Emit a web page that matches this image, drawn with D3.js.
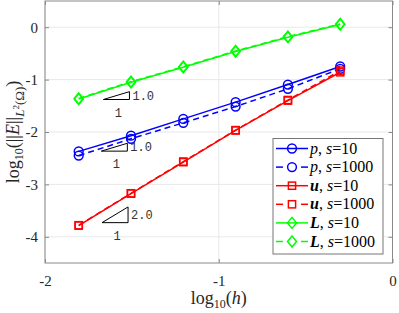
<!DOCTYPE html>
<html>
<head>
<meta charset="utf-8">
<script src="https://cdn.jsdelivr.net/npm/d3@7"></script>
<style>
  body { margin: 0; background: #fff; }
  svg { display: block; }
</style>
</head>
<body>
<svg id="chart"></svg>
<script>
// log10(h) for h = 1/64 ... 1/2
const logH = [-1.806, -1.505, -1.204, -0.903, -0.602, -0.301]

const pS10 = [-2.37, -2.07, -1.75, -1.43, -1.095, -0.75]
const pS1000 = [-2.45, -2.13, -1.825, -1.515, -1.175, -0.795]
const uS10 = [-3.785, -3.175, -2.575, -1.97, -1.40, -0.86]
const uS1000 = [-3.78, -3.17, -2.565, -1.965, -1.39, -0.83]
const LS10 = [-1.37, -1.05, -0.765, -0.465, -0.19, 0.05]
const LS1000 = [-1.36, -1.04, -0.755, -0.455, -0.18, 0.06]

const xTicks = [-2, -1, 0]
const yTicks = [0, -1, -2, -3, -4]

// slope triangles: left x, base y, slope label
const triX = [-1.664, -1.676, -1.672]
const triY = [-1.38, -2.365, -3.73]
const triSlope = [1.0, 1.0, 2.0]
const triRun = 0.15

const series = [
    { name: "p", s: "10", bold: false, color: "#0000ff", marker: "circle", dash: false, values: pS10 },
    { name: "p", s: "1000", bold: false, color: "#0000ff", marker: "circle", dash: true, values: pS1000 },
    { name: "u", s: "10", bold: true, color: "#ff0000", marker: "square", dash: false, values: uS10 },
    { name: "u", s: "1000", bold: true, color: "#ff0000", marker: "square", dash: true, values: uS1000 },
    { name: "L", s: "10", bold: true, color: "#00ff00", marker: "diamond", dash: false, values: LS10 },
    { name: "L", s: "1000", bold: true, color: "#00ff00", marker: "diamond", dash: true, values: LS1000 }
]

const width = 399
const height = 313
const margin = { top: 1, right: 6.5, bottom: 50, left: 45 }

const svg = d3.select("#chart")
    .attr("width", width)
    .attr("height", height)

const xScale = d3.scaleLinear()
    .domain([-2, 0])
    .range([margin.left, width - margin.right])

const yScale = d3.scaleLinear()
    .domain([-4.5, 0.5])
    .range([height - margin.bottom, margin.top])

const serif = "'Liberation Serif', 'DejaVu Serif', serif"
const axisColor = "#8a8a8a"
const tickFmt = d => String(d)

// grid
svg.append("g")
    .selectAll("line")
    .data(xTicks)
    .join("line")
    .attr("x1", d => xScale(d)).attr("x2", d => xScale(d))
    .attr("y1", yScale.range()[1]).attr("y2", yScale.range()[0])
    .attr("stroke", "#e8e8e8")

svg.append("g")
    .selectAll("line")
    .data(yTicks)
    .join("line")
    .attr("y1", d => yScale(d)).attr("y2", d => yScale(d))
    .attr("x1", xScale.range()[0]).attr("x2", xScale.range()[1])
    .attr("stroke", "#e8e8e8")

// axes (ticks inward, box on)
const styleAxis = g =>
{
    g.select(".domain").remove()
    g.attr("font-family", null)
    g.selectAll(".tick line").attr("stroke", axisColor)
    g.selectAll(".tick text")
        .attr("font-family", serif)
        .attr("font-size", 15)
        .attr("fill", "#262626")
}

svg.append("g")
    .attr("transform", `translate(0,${yScale.range()[0]})`)
    .call(d3.axisBottom(xScale).tickValues(xTicks).tickFormat(tickFmt).tickSizeInner(-4).tickPadding(12))
    .call(styleAxis)

svg.append("g")
    .attr("transform", `translate(0,${yScale.range()[1]})`)
    .call(d3.axisTop(xScale).tickValues(xTicks).tickFormat("").tickSizeInner(-4))
    .call(styleAxis)

svg.append("g")
    .attr("transform", `translate(${xScale.range()[0]},0)`)
    .call(d3.axisLeft(yScale).tickValues(yTicks).tickFormat(tickFmt).tickSizeInner(-4).tickPadding(7))
    .call(styleAxis)

svg.append("g")
    .attr("transform", `translate(${xScale.range()[1]},0)`)
    .call(d3.axisRight(yScale).tickValues(yTicks).tickFormat("").tickSizeInner(-4))
    .call(styleAxis)

svg.append("rect")
    .attr("x", xScale.range()[0])
    .attr("y", yScale.range()[1])
    .attr("width", xScale.range()[1] - xScale.range()[0])
    .attr("height", yScale.range()[0] - yScale.range()[1])
    .attr("fill", "none")
    .attr("stroke", axisColor)

// markers
function drawMarker(g, type, color)
{
    if (type === "circle")
    {
        g.append("circle").attr("r", 4.4)
            .attr("fill", "none").attr("stroke", color).attr("stroke-width", 1.5)
    }
    else if (type === "square")
    {
        g.append("rect").attr("x", -3.6).attr("y", -3.6).attr("width", 7.2).attr("height", 7.2)
            .attr("fill", "none").attr("stroke", color).attr("stroke-width", 1.5)
    }
    else
    {
        g.append("path").attr("d", "M0,-5.5L4.5,0L0,5.5L-4.5,0Z")
            .attr("fill", "none").attr("stroke", color).attr("stroke-width", 1.5)
    }
}

const line = d3.line()
    .x((d, i) => xScale(logH[i]))
    .y(d => yScale(d))

series.forEach(s =>
{
    const g = svg.append("g")
    g.append("path")
        .attr("d", line(s.values))
        .attr("fill", "none")
        .attr("stroke", s.color)
        .attr("stroke-width", 1.5)
        .attr("stroke-dasharray", s.dash ? "6,4" : null)

    s.values.forEach((v, i) =>
    {
        const m = g.append("g").attr("transform", `translate(${xScale(logH[i])},${yScale(v)})`)
        drawMarker(m, s.marker, s.color)
    })
})

// slope triangles
const mono = "'Liberation Mono', 'DejaVu Sans Mono', monospace"
triX.forEach((x0, i) =>
{
    const x1 = x0 + triRun
    const y0 = triY[i]
    const y1 = y0 + triSlope[i] * triRun
    const g = svg.append("g")
    g.append("path")
        .attr("d", `M${xScale(x0)},${yScale(y0)}L${xScale(x1)},${yScale(y0)}L${xScale(x1)},${yScale(y1)}Z`)
        .attr("fill", "none")
        .attr("stroke", "#000")
        .attr("stroke-width", 1)
    g.append("text")
        .attr("x", xScale(x1) + 3)
        .attr("y", (yScale(y0) + yScale(y1)) / 2 + 1)
        .attr("dominant-baseline", "middle")
        .attr("font-family", mono)
        .attr("font-size", 12)
        .attr("fill", "#333")
        .text(triSlope[i].toFixed(1))
    g.append("text")
        .attr("x", (xScale(x0) + xScale(x1)) / 2 + 2)
        .attr("y", yScale(y0) + 14)
        .attr("dominant-baseline", "middle")
        .attr("text-anchor", "middle")
        .attr("font-family", mono)
        .attr("font-size", 12)
        .attr("fill", "#333")
        .text("1")
})

// axis labels
const xLabel = svg.append("text")
    .attr("x", (xScale.range()[0] + xScale.range()[1]) / 2)
    .attr("y", 304)
    .attr("text-anchor", "middle")
    .attr("font-family", serif)
    .attr("font-size", 18)
    .attr("fill", "#262626")
xLabel.append("tspan").text("log")
xLabel.append("tspan").attr("font-size", 12).attr("dy", 4).text("10")
xLabel.append("tspan").attr("dy", -4).text("(")
xLabel.append("tspan").attr("font-style", "italic").text("h")
xLabel.append("tspan").text(")")

const yLabel = svg.append("text")
    .attr("transform", `translate(19,${(yScale.range()[0] + yScale.range()[1]) / 2}) rotate(-90)`)
    .attr("text-anchor", "middle")
    .attr("font-family", serif)
    .attr("font-size", 18)
    .attr("fill", "#262626")
yLabel.append("tspan").text("log")
yLabel.append("tspan").attr("font-size", 12).attr("dy", 4).text("10")
yLabel.append("tspan").attr("dy", -4).text("(||")
yLabel.append("tspan").attr("font-style", "italic").text("E")
yLabel.append("tspan").text("||")
yLabel.append("tspan").attr("font-size", 13).attr("font-style", "italic").attr("dy", 5).text("L")
yLabel.append("tspan").attr("font-size", 9).attr("dy", -5).text("2")
yLabel.append("tspan").attr("font-size", 13).attr("dy", 5).text("(Ω)")
yLabel.append("tspan").attr("dy", -5).text(")")

// legend
const legend = svg.append("g")
legend.append("rect")
    .attr("x", 273).attr("y", 138.5)
    .attr("width", 110).attr("height", 115.5)
    .attr("fill", "#fff")
    .attr("stroke", "#777")
    .attr("stroke-width", 1)

series.forEach((s, i) =>
{
    const y = 148.5 + i * 18.6
    const g = legend.append("g")
    if (s.dash)
    {
        g.append("line").attr("x1", 276).attr("x2", 283).attr("y1", y).attr("y2", y)
            .attr("stroke", s.color).attr("stroke-width", 1.5)
        g.append("line").attr("x1", 301).attr("x2", 308).attr("y1", y).attr("y2", y)
            .attr("stroke", s.color).attr("stroke-width", 1.5)
    }
    else
    {
        g.append("line").attr("x1", 276).attr("x2", 308).attr("y1", y).attr("y2", y)
            .attr("stroke", s.color).attr("stroke-width", 1.5)
    }
    const m = g.append("g").attr("transform", `translate(292,${y})`)
    drawMarker(m, s.marker, s.color)

    const t = g.append("text")
        .attr("x", 310)
        .attr("y", y + 5)
        .attr("font-family", serif)
        .attr("font-size", 16)
        .attr("fill", "#000")
    t.append("tspan").attr("font-style", "italic").attr("font-weight", s.bold ? "bold" : null).text(s.name)
    t.append("tspan").text(", ")
    t.append("tspan").attr("font-style", "italic").text("s")
    t.append("tspan").text("=" + s.s)
})
</script>
</body>
</html>
